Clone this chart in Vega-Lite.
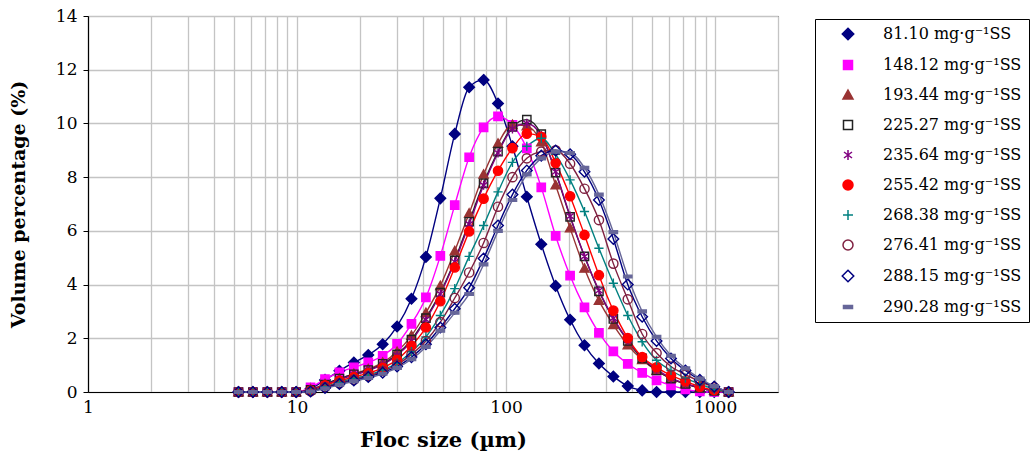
{
"$schema":"https://vega.github.io/schema/vega-lite/v6.json",
"width":690,"height":376,
"autosize":{"type":"none"},
"padding":{"left":88,"top":16,"right":256,"bottom":62},
"background":"white",
"config":{
 "font":"DejaVu Serif",
 "view":{"stroke":"black","strokeWidth":1},
 "axis":{"labelFont":"DejaVu Serif","titleFont":"DejaVu Serif","labelColor":"black","titleColor":"black","domainColor":"black","domainWidth":1.2,"tickColor":"black","gridColor":"#c4c4c4","gridWidth":1.3,"titleFontWeight":"bold","labelFlush":false,"labelOverlap":false},
 "legend":{"labelFont":"DejaVu Serif","labelFontSize":16,"labelColor":"black","labelLimit":300,"rowPadding":14,"symbolSize":100,"symbolStrokeWidth":1.5,"symbolOffset":18,"labelOffset":27}
},
"data":{"values":[
{"s":"81.10","x":5.248,"y":0},{"s":"81.10","x":6.152,"y":0},{"s":"81.10","x":7.209,"y":0},{"s":"81.10","x":8.451,"y":0},{"s":"81.10","x":9.906,"y":0},{"s":"81.10","x":11.61,"y":0.12},{"s":"81.10","x":13.61,"y":0.45},{"s":"81.10","x":15.95,"y":0.79},{"s":"81.10","x":18.70,"y":1.10},{"s":"81.10","x":21.92,"y":1.38},{"s":"81.10","x":25.69,"y":1.78},{"s":"81.10","x":30.11,"y":2.44},{"s":"81.10","x":35.28,"y":3.47},{"s":"81.10","x":41.36,"y":5.03},{"s":"81.10","x":48.49,"y":7.21},{"s":"81.10","x":56.83,"y":9.61},{"s":"81.10","x":66.60,"y":11.35},{"s":"81.10","x":78.08,"y":11.62},{"s":"81.10","x":91.52,"y":10.74},{"s":"81.10","x":107.3,"y":9.15},{"s":"81.10","x":125.7,"y":7.27},{"s":"81.10","x":147.4,"y":5.50},{"s":"81.10","x":172.7,"y":3.95},{"s":"81.10","x":202.5,"y":2.69},{"s":"81.10","x":237.3,"y":1.74},{"s":"81.10","x":278.2,"y":1.06},{"s":"81.10","x":326.1,"y":0.58},{"s":"81.10","x":382.2,"y":0.22},{"s":"81.10","x":448.0,"y":0.06},{"s":"81.10","x":524.9,"y":0},{"s":"81.10","x":615.3,"y":0},{"s":"81.10","x":721.3,"y":0},{"s":"81.10","x":845.3,"y":0},{"s":"81.10","x":990.8,"y":0},{"s":"81.10","x":1161,"y":0},
{"s":"148.12","x":5.248,"y":0},{"s":"148.12","x":6.152,"y":0},{"s":"148.12","x":7.209,"y":0},{"s":"148.12","x":8.451,"y":0},{"s":"148.12","x":9.906,"y":0},{"s":"148.12","x":11.61,"y":0.17},{"s":"148.12","x":13.61,"y":0.48},{"s":"148.12","x":15.95,"y":0.73},{"s":"148.12","x":18.70,"y":0.92},{"s":"148.12","x":21.92,"y":1.1},{"s":"148.12","x":25.69,"y":1.35},{"s":"148.12","x":30.11,"y":1.79},{"s":"148.12","x":35.28,"y":2.54},{"s":"148.12","x":41.36,"y":3.52},{"s":"148.12","x":48.49,"y":5.07},{"s":"148.12","x":56.83,"y":6.96},{"s":"148.12","x":66.60,"y":8.74},{"s":"148.12","x":78.08,"y":9.85},{"s":"148.12","x":91.52,"y":10.26},{"s":"148.12","x":107.3,"y":9.95},{"s":"148.12","x":125.7,"y":9.07},{"s":"148.12","x":147.4,"y":7.62},{"s":"148.12","x":172.7,"y":5.81},{"s":"148.12","x":202.5,"y":4.33},{"s":"148.12","x":237.3,"y":3.15},{"s":"148.12","x":278.2,"y":2.2},{"s":"148.12","x":326.1,"y":1.51},{"s":"148.12","x":382.2,"y":1.05},{"s":"148.12","x":448.0,"y":0.71},{"s":"148.12","x":524.9,"y":0.43},{"s":"148.12","x":615.3,"y":0.25},{"s":"148.12","x":721.3,"y":0.1},{"s":"148.12","x":845.3,"y":0.02},{"s":"148.12","x":990.8,"y":0},{"s":"148.12","x":1161,"y":0},
{"s":"193.44","x":5.248,"y":0},{"s":"193.44","x":6.152,"y":0},{"s":"193.44","x":7.209,"y":0},{"s":"193.44","x":8.451,"y":0},{"s":"193.44","x":9.906,"y":0},{"s":"193.44","x":11.61,"y":0.1},{"s":"193.44","x":13.61,"y":0.3},{"s":"193.44","x":15.95,"y":0.5},{"s":"193.44","x":18.70,"y":0.68},{"s":"193.44","x":21.92,"y":0.85},{"s":"193.44","x":25.69,"y":1.1},{"s":"193.44","x":30.11,"y":1.5},{"s":"193.44","x":35.28,"y":2.1},{"s":"193.44","x":41.36,"y":2.95},{"s":"193.44","x":48.49,"y":3.95},{"s":"193.44","x":56.83,"y":5.25},{"s":"193.44","x":66.60,"y":6.65},{"s":"193.44","x":78.08,"y":8.1},{"s":"193.44","x":91.52,"y":9.25},{"s":"193.44","x":107.3,"y":9.95},{"s":"193.44","x":125.7,"y":9.9},{"s":"193.44","x":147.4,"y":9.3},{"s":"193.44","x":172.7,"y":7.7},{"s":"193.44","x":202.5,"y":6.1},{"s":"193.44","x":237.3,"y":4.6},{"s":"193.44","x":278.2,"y":3.4},{"s":"193.44","x":326.1,"y":2.5},{"s":"193.44","x":382.2,"y":1.75},{"s":"193.44","x":448.0,"y":1.2},{"s":"193.44","x":524.9,"y":0.8},{"s":"193.44","x":615.3,"y":0.5},{"s":"193.44","x":721.3,"y":0.3},{"s":"193.44","x":845.3,"y":0.15},{"s":"193.44","x":990.8,"y":0.05},{"s":"193.44","x":1161,"y":0},
{"s":"225.27","x":5.248,"y":0},{"s":"225.27","x":6.152,"y":0},{"s":"225.27","x":7.209,"y":0},{"s":"225.27","x":8.451,"y":0},{"s":"225.27","x":9.906,"y":0},{"s":"225.27","x":11.61,"y":0.08},{"s":"225.27","x":13.61,"y":0.28},{"s":"225.27","x":15.95,"y":0.5},{"s":"225.27","x":18.70,"y":0.66},{"s":"225.27","x":21.92,"y":0.82},{"s":"225.27","x":25.69,"y":1.05},{"s":"225.27","x":30.11,"y":1.4},{"s":"225.27","x":35.28,"y":1.95},{"s":"225.27","x":41.36,"y":2.75},{"s":"225.27","x":48.49,"y":3.7},{"s":"225.27","x":56.83,"y":4.9},{"s":"225.27","x":66.60,"y":6.34},{"s":"225.27","x":78.08,"y":7.77},{"s":"225.27","x":91.52,"y":8.95},{"s":"225.27","x":107.3,"y":9.87},{"s":"225.27","x":125.7,"y":10.14},{"s":"225.27","x":147.4,"y":9.6},{"s":"225.27","x":172.7,"y":8.17},{"s":"225.27","x":202.5,"y":6.52},{"s":"225.27","x":237.3,"y":5.05},{"s":"225.27","x":278.2,"y":3.75},{"s":"225.27","x":326.1,"y":2.72},{"s":"225.27","x":382.2,"y":1.9},{"s":"225.27","x":448.0,"y":1.25},{"s":"225.27","x":524.9,"y":0.8},{"s":"225.27","x":615.3,"y":0.5},{"s":"225.27","x":721.3,"y":0.3},{"s":"225.27","x":845.3,"y":0.15},{"s":"225.27","x":990.8,"y":0.04},{"s":"225.27","x":1161,"y":0},
{"s":"235.64","x":5.248,"y":0},{"s":"235.64","x":6.152,"y":0},{"s":"235.64","x":7.209,"y":0},{"s":"235.64","x":8.451,"y":0},{"s":"235.64","x":9.906,"y":0},{"s":"235.64","x":11.61,"y":0.07},{"s":"235.64","x":13.61,"y":0.26},{"s":"235.64","x":15.95,"y":0.47},{"s":"235.64","x":18.70,"y":0.63},{"s":"235.64","x":21.92,"y":0.8},{"s":"235.64","x":25.69,"y":1.02},{"s":"235.64","x":30.11,"y":1.37},{"s":"235.64","x":35.28,"y":1.9},{"s":"235.64","x":41.36,"y":2.7},{"s":"235.64","x":48.49,"y":3.65},{"s":"235.64","x":56.83,"y":4.85},{"s":"235.64","x":66.60,"y":6.25},{"s":"235.64","x":78.08,"y":7.7},{"s":"235.64","x":91.52,"y":8.9},{"s":"235.64","x":107.3,"y":9.8},{"s":"235.64","x":125.7,"y":10.0},{"s":"235.64","x":147.4,"y":9.55},{"s":"235.64","x":172.7,"y":8.2},{"s":"235.64","x":202.5,"y":6.55},{"s":"235.64","x":237.3,"y":5.05},{"s":"235.64","x":278.2,"y":3.78},{"s":"235.64","x":326.1,"y":2.75},{"s":"235.64","x":382.2,"y":1.93},{"s":"235.64","x":448.0,"y":1.28},{"s":"235.64","x":524.9,"y":0.84},{"s":"235.64","x":615.3,"y":0.52},{"s":"235.64","x":721.3,"y":0.32},{"s":"235.64","x":845.3,"y":0.16},{"s":"235.64","x":990.8,"y":0.05},{"s":"235.64","x":1161,"y":0},
{"s":"255.42","x":5.248,"y":0},{"s":"255.42","x":6.152,"y":0},{"s":"255.42","x":7.209,"y":0},{"s":"255.42","x":8.451,"y":0},{"s":"255.42","x":9.906,"y":0},{"s":"255.42","x":11.61,"y":0.05},{"s":"255.42","x":13.61,"y":0.25},{"s":"255.42","x":15.95,"y":0.42},{"s":"255.42","x":18.70,"y":0.55},{"s":"255.42","x":21.92,"y":0.7},{"s":"255.42","x":25.69,"y":0.9},{"s":"255.42","x":30.11,"y":1.2},{"s":"255.42","x":35.28,"y":1.72},{"s":"255.42","x":41.36,"y":2.4},{"s":"255.42","x":48.49,"y":3.38},{"s":"255.42","x":56.83,"y":4.64},{"s":"255.42","x":66.60,"y":5.98},{"s":"255.42","x":78.08,"y":7.2},{"s":"255.42","x":91.52,"y":8.24},{"s":"255.42","x":107.3,"y":9.08},{"s":"255.42","x":125.7,"y":9.62},{"s":"255.42","x":147.4,"y":9.5},{"s":"255.42","x":172.7,"y":8.53},{"s":"255.42","x":202.5,"y":7.29},{"s":"255.42","x":237.3,"y":5.85},{"s":"255.42","x":278.2,"y":4.35},{"s":"255.42","x":326.1,"y":3.03},{"s":"255.42","x":382.2,"y":2.01},{"s":"255.42","x":448.0,"y":1.3},{"s":"255.42","x":524.9,"y":0.92},{"s":"255.42","x":615.3,"y":0.62},{"s":"255.42","x":721.3,"y":0.4},{"s":"255.42","x":845.3,"y":0.2},{"s":"255.42","x":990.8,"y":0.07},{"s":"255.42","x":1161,"y":0},
{"s":"268.38","x":5.248,"y":0},{"s":"268.38","x":6.152,"y":0},{"s":"268.38","x":7.209,"y":0},{"s":"268.38","x":8.451,"y":0},{"s":"268.38","x":9.906,"y":0},{"s":"268.38","x":11.61,"y":0.04},{"s":"268.38","x":13.61,"y":0.2},{"s":"268.38","x":15.95,"y":0.36},{"s":"268.38","x":18.70,"y":0.5},{"s":"268.38","x":21.92,"y":0.63},{"s":"268.38","x":25.69,"y":0.82},{"s":"268.38","x":30.11,"y":1.08},{"s":"268.38","x":35.28,"y":1.5},{"s":"268.38","x":41.36,"y":2.05},{"s":"268.38","x":48.49,"y":2.85},{"s":"268.38","x":56.83,"y":3.85},{"s":"268.38","x":66.60,"y":5.05},{"s":"268.38","x":78.08,"y":6.2},{"s":"268.38","x":91.52,"y":7.45},{"s":"268.38","x":107.3,"y":8.55},{"s":"268.38","x":125.7,"y":9.15},{"s":"268.38","x":147.4,"y":9.45},{"s":"268.38","x":172.7,"y":8.85},{"s":"268.38","x":202.5,"y":7.9},{"s":"268.38","x":237.3,"y":6.72},{"s":"268.38","x":278.2,"y":5.35},{"s":"268.38","x":326.1,"y":4.05},{"s":"268.38","x":382.2,"y":2.85},{"s":"268.38","x":448.0,"y":1.87},{"s":"268.38","x":524.9,"y":1.18},{"s":"268.38","x":615.3,"y":0.8},{"s":"268.38","x":721.3,"y":0.52},{"s":"268.38","x":845.3,"y":0.3},{"s":"268.38","x":990.8,"y":0.1},{"s":"268.38","x":1161,"y":0},
{"s":"276.41","x":5.248,"y":0},{"s":"276.41","x":6.152,"y":0},{"s":"276.41","x":7.209,"y":0},{"s":"276.41","x":8.451,"y":0},{"s":"276.41","x":9.906,"y":0},{"s":"276.41","x":11.61,"y":0.03},{"s":"276.41","x":13.61,"y":0.18},{"s":"276.41","x":15.95,"y":0.33},{"s":"276.41","x":18.70,"y":0.46},{"s":"276.41","x":21.92,"y":0.6},{"s":"276.41","x":25.69,"y":0.78},{"s":"276.41","x":30.11,"y":1.02},{"s":"276.41","x":35.28,"y":1.4},{"s":"276.41","x":41.36,"y":1.9},{"s":"276.41","x":48.49,"y":2.6},{"s":"276.41","x":56.83,"y":3.5},{"s":"276.41","x":66.60,"y":4.45},{"s":"276.41","x":78.08,"y":5.55},{"s":"276.41","x":91.52,"y":6.9},{"s":"276.41","x":107.3,"y":8.0},{"s":"276.41","x":125.7,"y":8.7},{"s":"276.41","x":147.4,"y":8.95},{"s":"276.41","x":172.7,"y":9.0},{"s":"276.41","x":202.5,"y":8.5},{"s":"276.41","x":237.3,"y":7.57},{"s":"276.41","x":278.2,"y":6.4},{"s":"276.41","x":326.1,"y":4.78},{"s":"276.41","x":382.2,"y":3.45},{"s":"276.41","x":448.0,"y":2.16},{"s":"276.41","x":524.9,"y":1.45},{"s":"276.41","x":615.3,"y":0.95},{"s":"276.41","x":721.3,"y":0.65},{"s":"276.41","x":845.3,"y":0.4},{"s":"276.41","x":990.8,"y":0.17},{"s":"276.41","x":1161,"y":0},
{"s":"288.15","x":5.248,"y":0},{"s":"288.15","x":6.152,"y":0},{"s":"288.15","x":7.209,"y":0},{"s":"288.15","x":8.451,"y":0},{"s":"288.15","x":9.906,"y":0},{"s":"288.15","x":11.61,"y":0.02},{"s":"288.15","x":13.61,"y":0.15},{"s":"288.15","x":15.95,"y":0.3},{"s":"288.15","x":18.70,"y":0.43},{"s":"288.15","x":21.92,"y":0.56},{"s":"288.15","x":25.69,"y":0.72},{"s":"288.15","x":30.11,"y":0.95},{"s":"288.15","x":35.28,"y":1.3},{"s":"288.15","x":41.36,"y":1.78},{"s":"288.15","x":48.49,"y":2.4},{"s":"288.15","x":56.83,"y":3.1},{"s":"288.15","x":66.60,"y":3.88},{"s":"288.15","x":78.08,"y":4.97},{"s":"288.15","x":91.52,"y":6.2},{"s":"288.15","x":107.3,"y":7.35},{"s":"288.15","x":125.7,"y":8.25},{"s":"288.15","x":147.4,"y":8.8},{"s":"288.15","x":172.7,"y":8.99},{"s":"288.15","x":202.5,"y":8.85},{"s":"288.15","x":237.3,"y":8.2},{"s":"288.15","x":278.2,"y":7.15},{"s":"288.15","x":326.1,"y":5.7},{"s":"288.15","x":382.2,"y":4.0},{"s":"288.15","x":448.0,"y":2.8},{"s":"288.15","x":524.9,"y":1.9},{"s":"288.15","x":615.3,"y":1.25},{"s":"288.15","x":721.3,"y":0.8},{"s":"288.15","x":845.3,"y":0.45},{"s":"288.15","x":990.8,"y":0.2},{"s":"288.15","x":1161,"y":0},
{"s":"290.28","x":5.248,"y":0},{"s":"290.28","x":6.152,"y":0},{"s":"290.28","x":7.209,"y":0},{"s":"290.28","x":8.451,"y":0},{"s":"290.28","x":9.906,"y":0},{"s":"290.28","x":11.61,"y":0.02},{"s":"290.28","x":13.61,"y":0.13},{"s":"290.28","x":15.95,"y":0.27},{"s":"290.28","x":18.70,"y":0.4},{"s":"290.28","x":21.92,"y":0.52},{"s":"290.28","x":25.69,"y":0.68},{"s":"290.28","x":30.11,"y":0.9},{"s":"290.28","x":35.28,"y":1.22},{"s":"290.28","x":41.36,"y":1.68},{"s":"290.28","x":48.49,"y":2.28},{"s":"290.28","x":56.83,"y":2.95},{"s":"290.28","x":66.60,"y":3.65},{"s":"290.28","x":78.08,"y":4.75},{"s":"290.28","x":91.52,"y":6.0},{"s":"290.28","x":107.3,"y":7.15},{"s":"290.28","x":125.7,"y":8.1},{"s":"290.28","x":147.4,"y":8.7},{"s":"290.28","x":172.7,"y":8.95},{"s":"290.28","x":202.5,"y":8.9},{"s":"290.28","x":237.3,"y":8.35},{"s":"290.28","x":278.2,"y":7.35},{"s":"290.28","x":326.1,"y":5.95},{"s":"290.28","x":382.2,"y":4.3},{"s":"290.28","x":448.0,"y":3.0},{"s":"290.28","x":524.9,"y":2.05},{"s":"290.28","x":615.3,"y":1.35},{"s":"290.28","x":721.3,"y":0.88},{"s":"290.28","x":845.3,"y":0.5},{"s":"290.28","x":990.8,"y":0.22},{"s":"290.28","x":1161,"y":0}
]},
"encoding":{
 "x":{"field":"x","type":"quantitative","scale":{"type":"log","domain":[1,2000],"nice":false},
  "axis":{"values":[1,2,3,4,5,6,7,8,9,10,20,30,40,50,60,70,80,90,100,200,300,400,500,600,700,800,900,1000,2000],
   "labelExpr":"(datum.value==1||datum.value==10||datum.value==100||datum.value==1000) ? format(datum.value,'d') : ''",
   "title":"Floc size (µm)","ticks":false,"labelPadding":7,"labelFontSize":17,"titleFontSize":21,
   "titleX":355,"titleY":48,"titleAlign":"center","titleBaseline":"middle","grid":true}},
 "y":{"field":"y","type":"quantitative","scale":{"domain":[0,14],"nice":false},
  "axis":{"values":[0,2,4,6,8,10,12,14],"title":"Volume percentage (%)","labelFontSize":17,"titleFontSize":19,
   "tickSize":5,"labelPadding":6,"titleX":-70,"titleY":188,"titleAngle":-90,"titleAlign":"center","titleBaseline":"middle","grid":true}}
},
"layer":[
 {"mark":{"type":"line","interpolate":"monotone","strokeWidth":1.4},
  "encoding":{"stroke":{"field":"s","type":"nominal",
    "scale":{"domain":["81.10","148.12","193.44","225.27","235.64","255.42","268.38","276.41","288.15","290.28"],
     "range":["#000080","#ff00ff","#993333","#222222","#800080","#ff0000","#008080","#7f2040","#000080","#666699"]},
    "legend":{"title":null,"orient":"none","legendX":727,"legendY":3,"strokeColor":"black","fillColor":"white","padding":7,
     "labelExpr":"datum.label + ' mg·g⁻¹SS'"}}}},
 {"mark":{"type":"point","size":85,"strokeWidth":1.4,"opacity":1},
  "encoding":{
   "stroke":{"field":"s","type":"nominal",
    "scale":{"domain":["81.10","148.12","193.44","225.27","235.64","255.42","268.38","276.41","288.15","290.28"],
     "range":["#000080","#ff00ff","#993333","#222222","#800080","#ff0000","#008080","#7f2040","#000080","#666699"]}},
   "fill":{"field":"s","type":"nominal",
    "scale":{"domain":["81.10","148.12","193.44","225.27","235.64","255.42","268.38","276.41","288.15","290.28"],
     "range":["#000080","#ff00ff","#993333","transparent","transparent","#ff0000","transparent","transparent","transparent","#666699"]}},
   "shape":{"field":"s","type":"nominal",
    "scale":{"domain":["81.10","148.12","193.44","225.27","235.64","255.42","268.38","276.41","288.15","290.28"],
     "range":["M0,-1.15L1.15,0L0,1.15L-1.15,0Z","M-0.9,-0.9L0.9,-0.9L0.9,0.9L-0.9,0.9Z","M0,-1L1,0.8L-1,0.8Z","M-0.9,-0.9L0.9,-0.9L0.9,0.9L-0.9,0.9Z","M0,-1L0,1M-0.8,-0.6L0.8,0.6M-0.8,0.6L0.8,-0.6","M-1,0C-1,-0.552 -0.552,-1 0,-1C0.552,-1 1,-0.552 1,0C1,0.552 0.552,1 0,1C-0.552,1 -1,0.552 -1,0Z","M-1,0L1,0M0,-1L0,1","M-1,0C-1,-0.552 -0.552,-1 0,-1C0.552,-1 1,-0.552 1,0C1,0.552 0.552,1 0,1C-0.552,1 -1,0.552 -1,0Z","M0,-1.15L1.15,0L0,1.15L-1.15,0Z","M-0.9,-0.3L0.9,-0.3L0.9,0.3L-0.9,0.3Z"]}}
  }}
]
}
